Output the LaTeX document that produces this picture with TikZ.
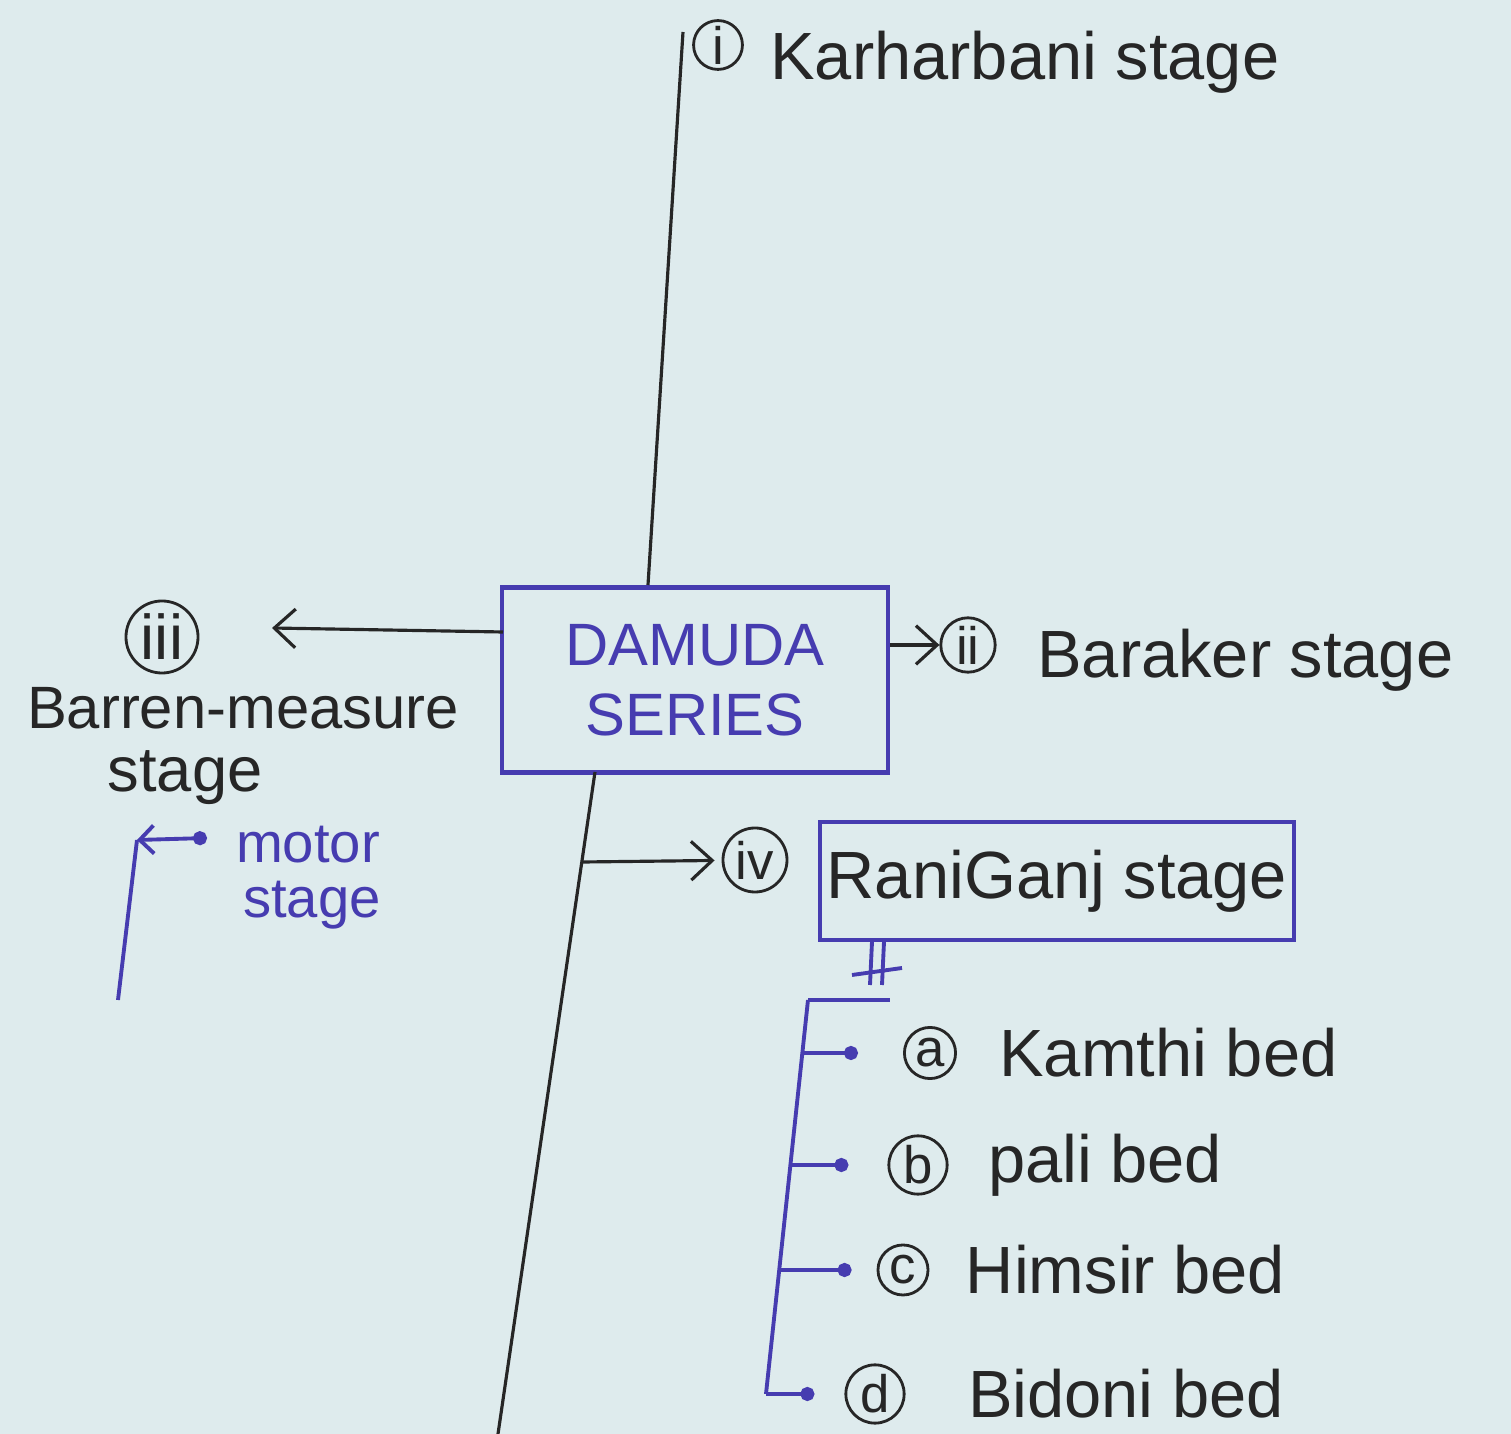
\documentclass[tikz,border=0pt]{standalone}
\usepackage{fontspec}
\setmainfont{Liberation Sans}
\usetikzlibrary{arrows.meta,positioning}
\definecolor{paper}{RGB}{222,235,237}
\definecolor{ink}{RGB}{38,38,38}
\definecolor{pen}{RGB}{70,60,176}
\tikzset{
  hand/.style={font=\fontsize{19}{22}\selectfont,text=ink},
  tag/.style={draw=ink,circle,line width=0.8pt,inner sep=1pt,text=ink,font=\fontsize{15}{16}\selectfont},
  stagebox/.style={draw=pen,line width=1.2pt,inner sep=2pt},
  inkline/.style={draw=ink,line width=0.9pt},
  penline/.style={draw=pen,line width=1.1pt},
  barb/.style={-{Straight Barb[length=6pt,width=11pt]}}
}
\begin{document}
\begin{tikzpicture}[x=0.01cm,y=-0.01cm]
\fill[paper] (0,0) rectangle (1511,1434);
\useasboundingbox (0,0) rectangle (1511,1434);
% main series box
\node[stagebox,minimum width=3.86cm,minimum height=1.85cm,align=center,text=pen,font=\fontsize{17}{20}\selectfont] (damuda) at (695,680) {DAMUDA\\SERIES};
% the long black line
\coordinate (ktop) at (683,32);
\coordinate (kjoin) at (648,585);
\coordinate (bjoin) at (595,772);
\coordinate (bend) at (498,1434);
\coordinate (rjoin) at (583,862);
\draw[inkline] (ktop) -- (kjoin);
\draw[inkline] (bjoin) -- (bend);
% (i) top
\node[tag,minimum size=0.34cm] (ti) at (718,45) {i};
\node[hand,anchor=west] (karhar) at (758,62) {Karharbani stage};
% (ii) right
\node[tag,minimum size=0.5cm] (tii) at (968,645) {ii};
\node[hand,anchor=west] (barak) at (1025,660) {Baraker stage};
\draw[inkline,barb] (damuda.east |- tii) -- (tii);
% (iii) left
\node[tag,minimum size=0.72cm,font=\fontsize{18}{20}\selectfont] (tiii) at (162,637) {iii};
\coordinate (lstart) at (503,632);
\coordinate (lend) at (272,628);
\draw[inkline,barb] (lstart) -- (lend);
\node[hand,font=\fontsize{17}{20}\selectfont] (barren) at (243,708) {Barren-measure};
\node[hand,font=\fontsize{18}{20}\selectfont] (bstage) at (185,778) {stage};
% motor stage
\node[hand,text=pen,font=\fontsize{16}{18}\selectfont] (motor) at (308,845) {motor};
\node[hand,text=pen,font=\fontsize{16}{18}\selectfont] (mstage) at (312,905) {stage};
\coordinate (mcorner) at (137,840);
\coordinate (mbot) at (118,1000);
\coordinate (mdot) at (207,838);
\draw[penline] (mbot) -- (mcorner);
\draw[penline,{Straight Barb[length=4pt,width=8pt]}-{Circle[length=4pt]}] (mcorner) -- (mdot);
% (iv) Raniganj
\node[tag,minimum size=0.6cm] (tiv) at (755,860) {iv};
\draw[inkline,barb,shorten >=2pt] (rjoin) -- (tiv);
\node[stagebox,minimum width=4.62cm,minimum height=1.18cm,hand] (ranig) at (1057,881) {RaniGanj stage};
% link to beds
\coordinate (bt) at (808,1000);
\coordinate (bb) at (766,1394);
\draw[penline] (872,942) -- (870,985);
\draw[penline] (884,942) -- (882,985);
\draw[penline] (852,975) -- (902,968);
\draw[penline] (bt) -- (890,1000);
\draw[penline] (bt) -- (bb);
% beds
\foreach \n/\x/\y/\lx/\sh/\gap/\txt in {a/930/1053/802/0.45/0.3/Kamthi bed,b/918/1165/791/0.39/0.27/pali bed,c/903/1270/780/0.25/0.24/Himsir bed,d/875/1394/766/0.3/0.5/Bidoni bed} {
  \node[tag,minimum size=0.5cm] (t\n) at (\x,\y) {\n};
  \node[hand,right=\gap cm of t\n] (bed\n) {\txt};
  \draw[penline,-{Circle[length=4pt]},shorten >=\sh cm] (\lx,\y) -- (t\n);
}
\end{tikzpicture}
\end{document}
